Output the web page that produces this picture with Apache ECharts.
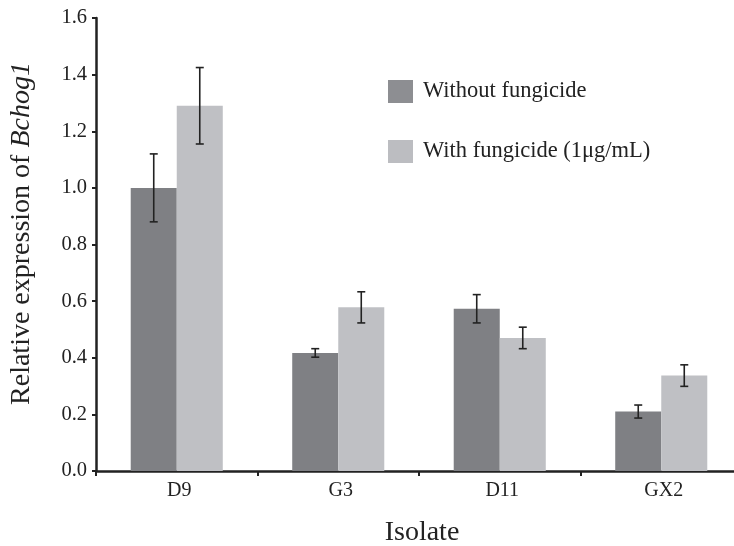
<!DOCTYPE html>
<html><head><meta charset="utf-8">
<script src="https://cdn.jsdelivr.net/npm/echarts@6/dist/echarts.min.js"></script>
<style>html,body{margin:0;padding:0;background:#fff}#c{width:734px;height:546px}</style>
</head><body><div id="c"></div>
<script>
const categories = ['D9', 'G3', 'D11', 'GX2'];
const seriesNames = ['Without fungicide', 'With fungicide (1\u03bcg/mL)'];
const withoutMean = [1.00, 0.417, 0.573, 0.210];
const withoutErr = [0.12, 0.015, 0.050, 0.023];
const withMean = [1.29, 0.578, 0.470, 0.337];
const withErr = [0.135, 0.055, 0.038, 0.038];
const yTicks = ['0.0','0.2','0.4','0.6','0.8','1.0','1.2','1.4','1.6'];

const FONT = '"Liberation Serif", "Times New Roman", serif';
const barFrac = 0.285;
function errData(means, errs) {
  return means.map((m, i) => [i, m - errs[i], m + errs[i]]);
}
function errSeries(means, errs, sign) {
  return {
    type: 'custom',
    data: errData(means, errs),
    z: 10,
    silent: true,
    renderItem: function (params, api) {
      const band = api.size([1, 0])[0];
      const lo = api.coord([api.value(0), api.value(1)]);
      const hi = api.coord([api.value(0), api.value(2)]);
      const x = lo[0] + sign * band * barFrac / 2;
      const cap = 4;
      const st = { stroke: '#222', lineWidth: 1.6 };
      return { type: 'group', children: [
        { type: 'line', shape: { x1: x, y1: lo[1], x2: x, y2: hi[1] }, style: st },
        { type: 'line', shape: { x1: x - cap, y1: lo[1], x2: x + cap, y2: lo[1] }, style: st },
        { type: 'line', shape: { x1: x - cap, y1: hi[1], x2: x + cap, y2: hi[1] }, style: st }
      ]};
    }
  };
}
const chart = echarts.init(document.getElementById('c'));
chart.setOption({
  animation: false,
  backgroundColor: '#fff',
  grid: { left: 96, top: 18, width: 646, height: 453, containLabel: false, outerBoundsMode: 'none' },
  legend: {
    orient: 'vertical', left: 388, top: 80, itemWidth: 25, itemHeight: 23, itemGap: 37,
    padding: 0,
    icon: 'rect',
    data: [
      { name: seriesNames[0], itemStyle: { color: '#8d8e92' } },
      { name: seriesNames[1], itemStyle: { color: '#bcbdc1' } }
    ],
    textStyle: { fontFamily: FONT, fontSize: 22.5, color: '#222', padding: [0, 0, 0, 5] }
  },
  xAxis: {
    type: 'category', data: categories,
    name: 'Isolate', nameLocation: 'middle', nameGap: 48,
    nameTextStyle: { fontFamily: FONT, fontSize: 28, color: '#222', padding: [0, 0, 0, 6] },
    axisLine: { lineStyle: { color: '#222', width: 2.5 } },
    axisTick: { show: true, length: 5, lineStyle: { color: '#222', width: 2 } },
    axisLabel: { fontFamily: FONT, fontSize: 20, color: '#222', margin: 10, padding: [0, 0, 0, 5] }
  },
  yAxis: {
    type: 'value', min: 0, max: 1.6, interval: 0.2,
    name: 'Relative expression of {i|Bchog1}', nameLocation: 'middle', nameGap: 60,
    nameTextStyle: { fontFamily: FONT, fontSize: 28, color: '#222', padding: [0, 0, 0, 22],
      rich: { i: { fontFamily: FONT, fontSize: 28, fontStyle: 'italic', color: '#222' } } },
    axisLine: { show: true, lineStyle: { color: '#222', width: 2.5 } },
    axisTick: { show: true, length: 4, lineStyle: { color: '#222', width: 2 } },
    splitLine: { show: false },
    axisLabel: { fontFamily: FONT, fontSize: 20.5, color: '#222', margin: 9,
      formatter: function (v) { return yTicks[Math.round(v / 0.2)]; } }
  },
  series: [
    { name: seriesNames[0], type: 'bar', data: withoutMean, barWidth: (barFrac * 100) + '%', barGap: '0%',
      itemStyle: { color: '#7f8084' } },
    { name: seriesNames[1], type: 'bar', data: withMean, barWidth: (barFrac * 100) + '%', barGap: '0%',
      itemStyle: { color: '#bfc0c4' } },
    errSeries(withoutMean, withoutErr, -1),
    errSeries(withMean, withErr, 1)
  ]
});
</script></body></html>
